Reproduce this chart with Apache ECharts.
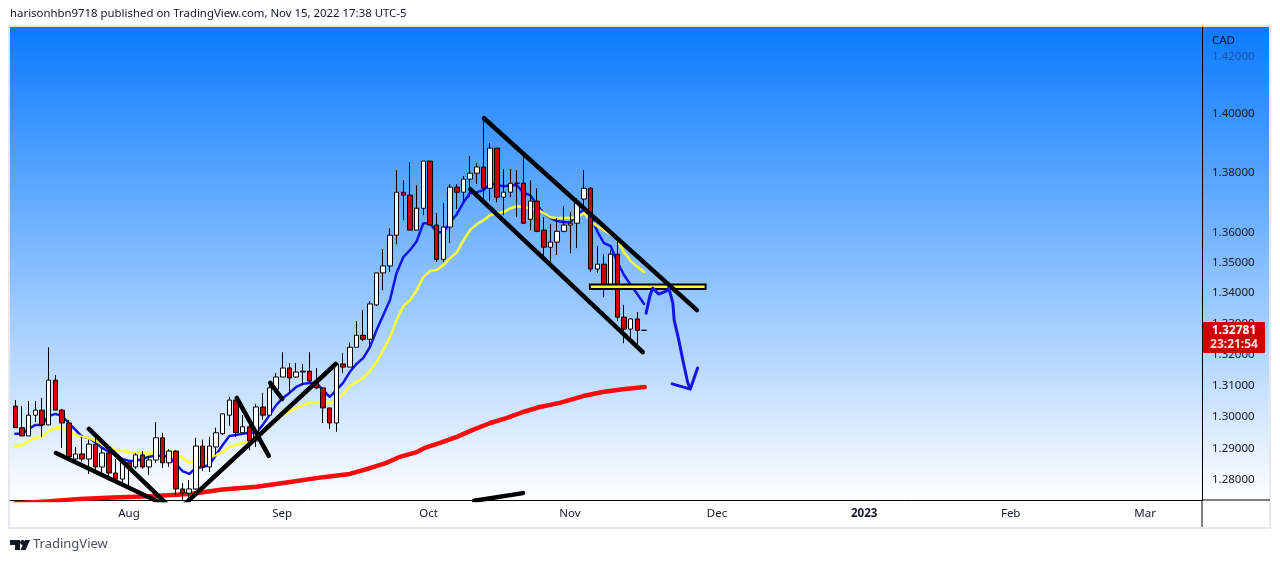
<!DOCTYPE html>
<html><head><meta charset="utf-8">
<style>html,body{margin:0;padding:0;background:#fff}#c{width:1280px;height:563px}</style>
<script src="https://cdn.jsdelivr.net/npm/echarts@6/dist/echarts.min.js"></script></head>
<body><div id="c"></div>
<script>
const headerText = 'harisonhbn9718 published on TradingView.com, Nov 15, 2022 17:38 UTC-5';
const priceTicks = [1.28,1.29,1.30,1.31,1.32,1.33,1.34,1.35,1.36,1.38,1.40,1.42];
const monthTicks = [17,39.9,61.8,82.9,104.9,126.9,148.8,168.9];
const monthLabels = ['Aug','Sep','Oct','Nov','Dec','2023','Feb','Mar'];
const opens = [1.3034,1.2965,1.2939,1.3005,1.3021,1.2974,1.3117,1.3021,1.2980,1.2866,1.2882,1.2866,1.2913,1.2841,1.2885,1.2822,1.2803,1.2854,1.2841,1.2879,1.2841,1.2863,1.2933,1.2854,1.2891,1.2772,1.2759,1.2772,1.2907,1.2841,1.2904,1.2946,1.3005,1.3053,1.2949,1.2968,1.2923,1.3031,1.3005,1.3088,1.3127,1.3156,1.3127,1.3143,1.3146,1.3114,1.3092,1.3028,1.2980,1.3169,1.3159,1.3223,1.3262,1.3249,1.3361,1.3466,1.3489,1.3591,1.3735,1.3725,1.3608,1.3681,1.3840,1.3625,1.3511,1.3618,1.3752,1.3735,1.3779,1.3799,1.3820,1.3748,1.3884,1.3718,1.3735,1.3765,1.3765,1.3644,1.3705,1.3608,1.3551,1.3568,1.3604,1.3625,1.3631,1.3712,1.3748,1.3479,1.3495,1.3426,1.3528,1.3321,1.3282,1.3315,1.32781];
const closes = [1.2965,1.2939,1.3005,1.3021,1.2974,1.3117,1.3021,1.2980,1.2873,1.2882,1.2866,1.2913,1.2841,1.2885,1.2822,1.2803,1.2854,1.2838,1.2879,1.2841,1.2863,1.2933,1.2854,1.2891,1.2772,1.2759,1.2772,1.2907,1.2841,1.2907,1.2949,1.3009,1.3053,1.2949,1.2968,1.2923,1.3031,1.3005,1.3092,1.3127,1.3156,1.3124,1.3143,1.3146,1.3114,1.3092,1.3028,1.2980,1.3169,1.3159,1.3223,1.3262,1.3249,1.3364,1.3466,1.3489,1.3591,1.3735,1.3725,1.3608,1.3681,1.3840,1.3625,1.3511,1.3618,1.3752,1.3735,1.3779,1.3799,1.3820,1.3748,1.3884,1.3718,1.3735,1.3765,1.3765,1.3631,1.3705,1.3604,1.3551,1.3568,1.3604,1.3625,1.3631,1.3698,1.3748,1.3479,1.3495,1.3426,1.3528,1.3321,1.3282,1.3315,1.3278,1.32781];
const lows = [1.2965,1.2939,1.2939,1.2983,1.2936,1.2974,1.3021,1.2901,1.2870,1.2863,1.2857,1.2819,1.2832,1.2822,1.2809,1.2790,1.2790,1.2778,1.2835,1.2835,1.2816,1.2854,1.2838,1.2841,1.2753,1.2738,1.2738,1.2769,1.2828,1.2825,1.2879,1.2942,1.2971,1.2936,1.2949,1.2894,1.2904,1.2990,1.3002,1.3085,1.3127,1.3076,1.3124,1.3101,1.3111,1.3088,1.2980,1.2961,1.2952,1.3140,1.3159,1.3223,1.3243,1.3226,1.3357,1.3409,1.3469,1.3561,1.3641,1.3608,1.3608,1.3658,1.3625,1.3502,1.3502,1.3565,1.3678,1.3705,1.3718,1.3762,1.3708,1.3705,1.3701,1.3658,1.3718,1.3651,1.3631,1.3608,1.3601,1.3518,1.3502,1.3525,1.3601,1.3531,1.3548,1.3678,1.3469,1.3466,1.3386,1.3416,1.3308,1.3236,1.3246,1.3233,1.32781];
const highs = [1.3053,1.3034,1.3050,1.3050,1.3060,1.3223,1.3133,1.3025,1.2990,1.2904,1.2936,1.2927,1.2933,1.2901,1.2907,1.2866,1.2860,1.2854,1.2885,1.2891,1.2876,1.2983,1.2949,1.2897,1.2894,1.2790,1.2800,1.2933,1.2927,1.2936,1.2965,1.3009,1.3063,1.3063,1.3005,1.2974,1.3041,1.3076,1.3101,1.3140,1.3207,1.3172,1.3172,1.3169,1.3207,1.3156,1.3092,1.3028,1.3169,1.3204,1.3239,1.3308,1.3344,1.3373,1.3466,1.3545,1.3614,1.3809,1.3775,1.3836,1.3758,1.3840,1.3840,1.3665,1.3698,1.3762,1.3762,1.3789,1.3857,1.3833,1.3986,1.3901,1.3884,1.3813,1.3813,1.3809,1.3860,1.3775,1.3748,1.3651,1.3628,1.3648,1.3688,1.3668,1.3715,1.3809,1.3752,1.3555,1.3528,1.3541,1.3581,1.3361,1.3318,1.3338,1.32781];
const maBlue = [1.2946,1.2946,1.2961,1.2974,1.2974,1.3002,1.3009,1.3002,1.2980,1.2958,1.2936,1.2933,1.2917,1.2901,1.2888,1.2879,1.2866,1.2860,1.2860,1.2866,1.2873,1.2876,1.2876,1.2873,1.2851,1.2828,1.2819,1.2838,1.2841,1.2847,1.2879,1.2910,1.2939,1.2942,1.2946,1.2949,1.2949,1.2974,1.3005,1.3037,1.3060,1.3076,1.3095,1.3105,1.3108,1.3108,1.3085,1.3063,1.3085,1.3108,1.3143,1.3169,1.3188,1.3223,1.3278,1.3327,1.3376,1.3466,1.3518,1.3541,1.3571,1.3631,1.3631,1.3601,1.3601,1.3634,1.3661,1.3701,1.3732,1.3735,1.3742,1.3765,1.3758,1.3755,1.3758,1.3758,1.3732,1.3725,1.3691,1.3665,1.3648,1.3638,1.3634,1.3634,1.3661,1.3675,1.3658,1.3604,1.3565,1.3555,1.3502,1.3459,1.3426,1.3396,1.3364];
const maYellow = [1.2907,1.2910,1.2923,1.2933,1.2936,1.2955,1.2965,1.2965,1.2955,1.2942,1.2936,1.2933,1.2923,1.2913,1.2904,1.2894,1.2891,1.2888,1.2885,1.2885,1.2882,1.2888,1.2891,1.2888,1.2882,1.2870,1.2854,1.2860,1.2863,1.2870,1.2879,1.2888,1.2904,1.2910,1.2917,1.2920,1.2930,1.2949,1.2965,1.2987,1.3005,1.3018,1.3028,1.3037,1.3044,1.3047,1.3047,1.3044,1.3053,1.3072,1.3098,1.3111,1.3124,1.3146,1.3175,1.3214,1.3255,1.3311,1.3357,1.3376,1.3409,1.3452,1.3472,1.3476,1.3492,1.3515,1.3534,1.3574,1.3608,1.3628,1.3641,1.3658,1.3665,1.3668,1.3681,1.3688,1.3684,1.3681,1.3678,1.3665,1.3651,1.3648,1.3648,1.3648,1.3651,1.3665,1.3638,1.3621,1.3608,1.3594,1.3578,1.3534,1.3505,1.3486,1.3469];
const maRedIndex = [0,4.74,9.67,14.6,20.1,26.1,31,36.1,41.1,46,50,53,55.5,57.5,60,61.2,63.5,66,68.4,71,73.5,75.9,78.4,81.4,84.9,87.8,90.8,94.1];
const maRed = [1.2727,1.2733,1.2741,1.2745,1.2749,1.2756,1.2770,1.2779,1.2794,1.2809,1.2819,1.2837,1.2854,1.2873,1.2888,1.2901,1.2917,1.2936,1.2958,1.2980,1.2996,1.3015,1.3031,1.3044,1.3066,1.3079,1.3088,1.3095];
const trendLines = [
  [[6.08,1.2885],[22.4,1.2722]],
  [[11.0,1.2961],[22.8,1.2722]],
  [[25.2,1.2722],[47.9,1.3169]],
  [[33.1,1.3060],[37.9,1.2876]],
  [[38.1,1.3108],[39.9,1.3057]],
  [[70.06,1.3986],[101.9,1.3344]],
  [[68.0,1.3745],[93.8,1.3207]],
  [[68.6,1.2735],[75.9,1.2759]]
];
const zoneBox = [[85.9,1.3428],[103.2,1.3413]];
const arrowPath = [[94.3,1.3334],[94.9,1.3393],[95.3,1.3416],[96.2,1.3396],[97.3,1.3406],[97.7,1.3416],[98.3,1.3367],[98.5,1.3311],[99.1,1.3255],[99.8,1.3181],[100.5,1.3111],[100.9,1.3088],[98.2,1.3105],[100.9,1.3088],[102.0,1.3156]];
const lastPriceText = '1.32781';
const countdownText = '23:21:54';

const FONT = '"Noto Sans", sans-serif';
const candles = opens.map((o,i)=>[i,o,closes[i],lows[i],highs[i]]);
const idx = a => a.map((v,i)=>[i,v]);
const chart = echarts.init(document.getElementById('c'), null, {renderer:'canvas'});
const lineS = (data,color,width,z,extra)=>Object.assign({type:'line',data,symbol:'none',smooth:false,z,clip:true,silent:true,
  lineStyle:{color,width,cap:'round',join:'round'}},extra||{});
chart.setOption({
  animation:false,
  backgroundColor:'#ffffff',
  grid:{left:10,right:78,top:27,bottom:63,containLabel:false},
  xAxis:{type:'value',min:-0.79,max:177.4,splitLine:{show:false},
    axisLine:{show:true,onZero:false,lineStyle:{color:'#000',width:1}},
    axisTick:{show:false},
    axisLabel:{customValues:monthTicks,margin:8,color:'#131722',fontFamily:FONT,fontSize:11.5,
      formatter:v=>{const s=monthLabels[monthTicks.indexOf(v)];return s==='2023'?'{b|2023}':s;},
      rich:{b:{fontWeight:'bold',fontFamily:FONT,fontSize:11.5,color:'#131722'}}}},
  yAxis:{type:'log',logBase:10,min:1.27375,max:1.4302,position:'right',splitLine:{show:false},minorTick:{show:false},
    axisLine:{show:true,onZero:false,lineStyle:{color:'#000',width:1}},
    axisTick:{show:false},
    axisLabel:{customValues:priceTicks,margin:10,fontFamily:FONT,fontSize:11.5,padding:[2,0,0,0],
      color:v=>(v>1.41?'rgba(19,23,34,0.45)':'#131722'),
      formatter:v=>Number(v).toFixed(5)}},
  series:[
    lineS(maRedIndex.map((x,i)=>[x,maRed[i]]),'#fa0a0a',4.5,2),
    lineS(idx(maBlue),'#1414e6',2.5,2),
    lineS(idx(maYellow),'#ffff33',2.5,2),
    {type:'candlestick',data:candles,barWidth:5,z:3,silent:true,
      itemStyle:{color:'#ffffff',color0:'#cc0000',borderColor:'#000',borderColor0:'#000',borderColorDoji:'#000',borderWidth:1}},
    ...trendLines.map(t=>lineS(t,'#000',4.5,4)),
    lineS(arrowPath,'#1414e6',3,5),
    {type:'line',data:[],z:4,silent:true,
      markArea:{silent:true,z:4,itemStyle:{color:'#ffff33',borderColor:'#000',borderWidth:2},
        data:[[{coord:zoneBox[0]},{coord:zoneBox[1]}]]}}
  ],
  graphic:[
    {type:'rect',silent:true,z:-10,shape:{x:10,y:27,width:1260,height:473},
      style:{fill:new echarts.graphic.LinearGradient(0,0,0,1,[{offset:0,color:'#0a7bff'},{offset:1,color:'#ffffff'}])}},
    {type:'rect',silent:true,z:-9,shape:{x:9,y:26,width:1261,height:502},style:{fill:'none',stroke:'#e6e8ee',lineWidth:2}},
    {type:'line',silent:true,z:6,shape:{x1:1202,y1:500,x2:1270,y2:500},style:{stroke:'#000',lineWidth:1}},
    {type:'line',silent:true,z:6,shape:{x1:1202,y1:500,x2:1202,y2:527},style:{stroke:'#000',lineWidth:1}},
    {type:'text',silent:true,z:6,x:10,y:8,style:{text:headerText,fill:'#131722',font:'11.4px '+FONT}},
    {type:'text',silent:true,z:6,x:1212,y:35,style:{text:'CAD',fill:'#131722',font:'11.5px '+FONT}},
    {type:'rect',silent:true,z:8,shape:{x:1203,y:322,width:62,height:31,r:1},style:{fill:'#d00000'}},
    {type:'text',silent:true,z:9,x:1234,y:331,style:{text:lastPriceText,fill:'#ffffff',font:'bold 12px '+FONT,align:'center',verticalAlign:'middle'}},
    {type:'text',silent:true,z:9,x:1234,y:345,style:{text:countdownText,fill:'#ffd9d9',font:'bold 12px '+FONT,align:'center',verticalAlign:'middle'}},
    {type:'polygon',silent:true,z:6,shape:{points:[[10,540],[20,540],[20,550],[15,550],[15,545],[10,545]]},style:{fill:'#131722'}},
    {type:'circle',silent:true,z:6,shape:{cx:22.5,cy:542.5,r:2.4},style:{fill:'#131722'}},
    {type:'polygon',silent:true,z:6,shape:{points:[[25,540],[30,540],[25.5,550],[20.5,550]]},style:{fill:'#131722'}},
    {type:'text',silent:true,z:6,x:33,y:538,style:{text:'TradingView',fill:'#4a4e58',font:'13px '+FONT}}
  ]
});
</script></body></html>
